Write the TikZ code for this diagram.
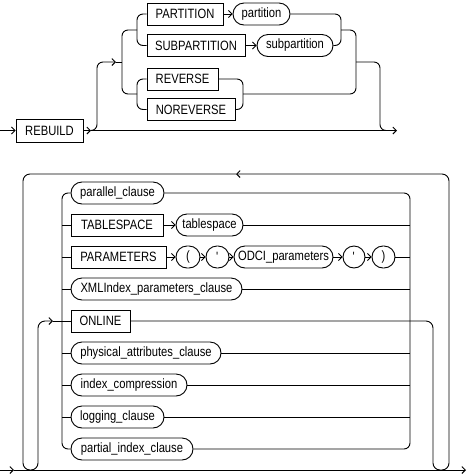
\documentclass[tikz,border=0pt]{standalone}
\usepackage{fontspec}
\setmainfont{Liberation Sans}[FakeStretch=0.83]
\usetikzlibrary{arrows.meta}
\begin{document}
\begin{tikzpicture}[x=1pt,y=-1pt,
  line width=0.9pt,
  >={Straight Barb[length=3.5pt,width=7pt,line width=0.9pt]},
  base/.style={draw,inner sep=0pt,minimum height=22pt,font=\fontsize{13.5}{15}\selectfont},
  kw/.style={base,rectangle},
  term/.style={base,rectangle,rounded corners=11pt},
  rc/.style={rounded corners=6pt},
  rcb/.style={rounded corners=7pt}]
\useasboundingbox (0,0) rectangle (468,475);
% ---------- top diagram ----------
\node[kw,minimum width=67pt,minimum height=23pt] (rebuild) at (49.5,130.5) {REBUILD};
\node[kw,minimum width=76pt] (partkw) at (185,14) {PARTITION};
\node[term,minimum width=57pt] (partterm) at (261.5,14) {partition};
\node[kw,minimum width=98pt] (subkw) at (196,45.5) {SUBPARTITION};
\node[term,minimum width=76pt] (subterm) at (295,45.5) {subpartition};
\node[kw,minimum width=71pt] (reverse) at (182.5,79) {REVERSE};
\node[kw,minimum width=88pt] (noreverse) at (191,109.5) {NOREVERSE};
\coordinate (s1) at (0,130.5);
\coordinate (a1) at (91,130.5);
\coordinate (e1) at (397,130.5);
\coordinate (b1) at (116,62);
\coordinate (j1) at (122,62);
\coordinate (j2) at (137,30);
\coordinate (j3) at (137,94);
\coordinate (m1) at (341,30);
\coordinate (m2) at (243,94);
\coordinate (m3) at (356,62);
\coordinate (m4) at (386,130.5);
\draw[->] (s1) -- (rebuild.west);
\draw[->] (rebuild.east) -- (a1);
\draw[->] (a1) -- (e1);
\draw[->,rc] (a1) -- (97,130.5) -- (97,62) -- (b1);
\draw (b1) -- (j1);
\draw[rc] (j2) -- (122,30) -- (122,94) -- (j3);
\draw[rc] (partkw.west) -- (137,14) -- (137,45.5) -- (subkw.west);
\draw[rc] (reverse.west) -- (137,79) -- (137,109.5) -- (noreverse.west);
\draw[->] (partkw.east) -- (partterm.west);
\draw[->] (subkw.east) -- (subterm.west);
\draw[rc] (partterm.east) -- (341,14) -- (341,45.5) -- (subterm.east);
\draw[rc] (m1) -- (356,30) -- (356,94) -- (m2);
\draw[rc] (reverse.east) -- (243,79) -- (243,109.5) -- (noreverse.east);
\draw[rc] (m3) -- (380,62) -- (380,130.5) -- (m4);
% ---------- bottom diagram ----------
\node[term,minimum width=93pt] (parallel) at (117.5,193) {parallel\_clause};
\node[kw,minimum width=92pt] (tskw) at (117,225) {TABLESPACE};
\node[term,minimum width=67pt] (tsterm) at (209.5,225) {tablespace};
\node[kw,minimum width=95pt] (params) at (118.5,257) {PARAMETERS};
\node[term,minimum width=24pt] (lp) at (188,257) {(};
\node[term,minimum width=23pt] (q1) at (217.5,257) {\textquotesingle};
\node[term,minimum width=99pt] (odci) at (283.5,257) {ODCI\_parameters};
\node[term,minimum width=22pt] (q2) at (354,257) {\textquotesingle};
\node[term,minimum width=23pt] (rp) at (383.5,257) {)};
\node[term,minimum width=171pt] (xml) at (156.5,289) {XMLIndex\_parameters\_clause};
\node[kw,minimum width=59pt] (online) at (100.5,321) {ONLINE};
\node[term,minimum width=150pt] (phys) at (146,353) {physical\_attributes\_clause};
\node[term,minimum width=116pt] (icomp) at (129,385) {index\_compression};
\node[term,minimum width=93pt] (logc) at (117.5,417) {logging\_clause};
\node[term,minimum width=122pt] (partial) at (132,449) {partial\_index\_clause};
\coordinate (s2) at (0,470);
\coordinate (a2) at (14,470);
\coordinate (e2) at (466,470);
\coordinate (top) at (236,174);
\coordinate (ein) at (53,321);
\draw[->] (s2) -- (a2);
\draw[->] (a2) -- (e2);
\draw[->,rcb] (online.east) -- (433,321) -- (433,470) -- (449,470) -- (449,174) -- (top);
\draw[->,rcb] (top) -- (23,174) -- (23,470) -- (38,470) -- (38,321) -- (ein);
\draw (ein) -- (online.west);
\draw[rc] (parallel.west) -- (62,193) -- (62,449) -- (partial.west);
\draw[rc] (parallel.east) -- (410,193) -- (410,449) -- (partial.east);
\draw (62,225) -- (tskw.west);
\draw (62,257) -- (params.west);
\draw (62,289) -- (xml.west);
\draw (62,353) -- (phys.west);
\draw (62,385) -- (icomp.west);
\draw (62,417) -- (logc.west);
\draw[->] (tskw.east) -- (tsterm.west);
\draw[->] (params.east) -- (lp.west);
\draw[->] (lp.east) -- (q1.west);
\draw[->] (q1.east) -- (odci.west);
\draw[->] (odci.east) -- (q2.west);
\draw[->] (q2.east) -- (rp.west);
\draw (tsterm.east) -- (410,225);
\draw (rp.east) -- (410,257);
\draw (xml.east) -- (410,289);
\draw (phys.east) -- (410,353);
\draw (icomp.east) -- (410,385);
\draw (logc.east) -- (410,417);
\end{tikzpicture}
\end{document}
